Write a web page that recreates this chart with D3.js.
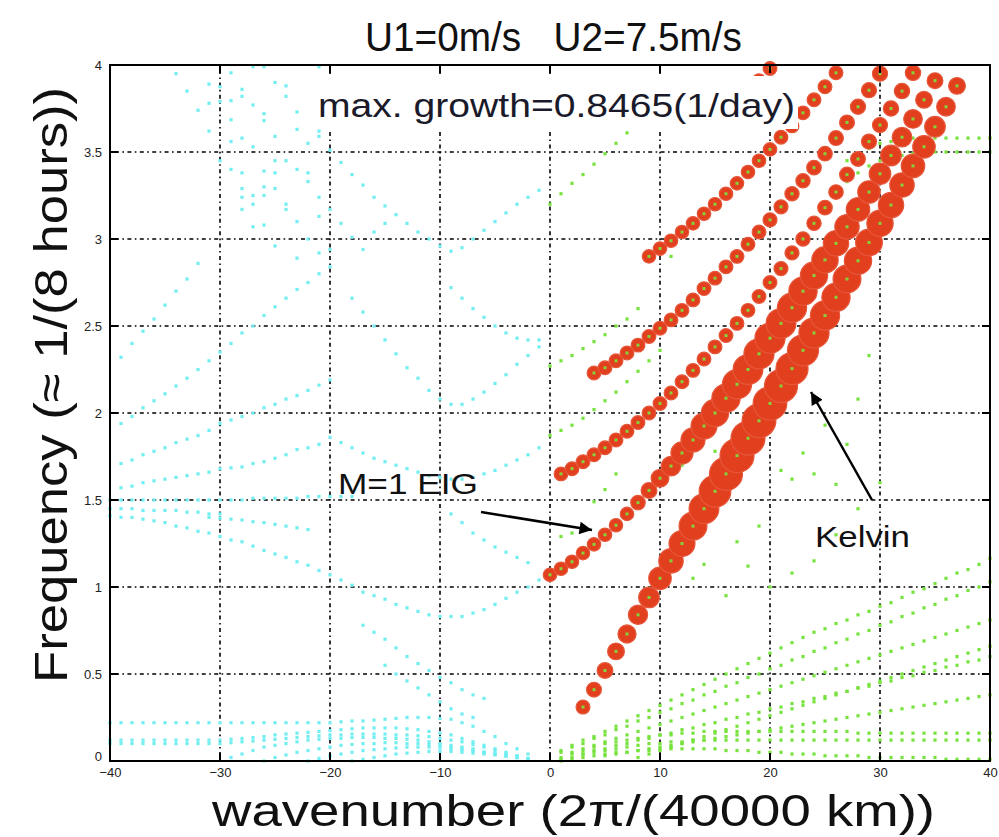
<!DOCTYPE html>
<html><head><meta charset="utf-8">
<script src="https://cdn.jsdelivr.net/npm/d3@7"></script>
<style>body{margin:0;background:#fff}svg{display:block}</style>
</head><body>
<svg id="c" width="999" height="837"></svg>
<script>
// ---------------- DATA ----------------
const xTicks = [-40,-30,-20,-10,0,10,20,30,40];
const yTicks = [0,0.5,1,1.5,2,2.5,3,3.5,4];
const yTickLabels = ["0","0.5","1","1.5","2","2.5","3","3.5","4"];
const maxGrowth = 0.8465;

// unstable (red) branches: first wavenumber, frequencies, growth rates (1/day)
const kelvinK0 = 3;
const kelvinFreq = [0.31,0.41,0.52,0.63,0.73,0.84,0.94,1.05,1.15,1.25,1.35,1.45,1.55,1.65,1.755,1.855,1.955,2.055,2.155,2.255,2.36,2.46,2.56,2.665,2.77,2.875,2.98,3.09,3.195,3.31,3.42,3.53,3.645,3.76,3.88];
const kelvinGrowth = [0.106,0.141,0.176,0.212,0.261,0.303,0.353,0.423,0.494,0.55,0.621,0.691,0.762,0.811,0.8465,0.845,0.84,0.832,0.811,0.776,0.741,0.705,0.67,0.635,0.621,0.6,0.578,0.564,0.529,0.494,0.459,0.423,0.353,0.282,0.212];

const eigK0 = 0;
const eigFreq = [1.07,1.105,1.145,1.195,1.245,1.30,1.355,1.42,1.485,1.555,1.625,1.695,1.77,1.845,1.925,2.0,2.085,2.165,2.25,2.34,2.43,2.515,2.605,2.70,2.79,2.88,2.975,3.07,3.17,3.27,3.375,3.48,3.585,3.69,3.80,3.91];
const eigGrowth = [0.09,0.09,0.09,0.09,0.09,0.09,0.09,0.09,0.127,0.176,0.247,0.317,0.409,0.48,0.55,0.6,0.635,0.67,0.69,0.705,0.705,0.69,0.67,0.635,0.6,0.564,0.529,0.494,0.459,0.423,0.388,0.353,0.317,0.282,0.212,0.176];

const aK0 = 1;
const aFreq = [1.65,1.68,1.72,1.76,1.80,1.845,1.895,1.945,2.0,2.055,2.115,2.18,2.245,2.31,2.38,2.445,2.515,2.59,2.67,2.75,2.83,2.92,3.0,3.09,3.18,3.27,3.37,3.46,3.56,3.655,3.75,3.85,3.955];
const aGrowth = [0.1,0.1,0.1,0.1,0.1,0.1,0.1,0.1,0.1,0.1,0.1,0.1,0.1,0.1,0.1,0.1,0.1,0.1,0.1,0.1,0.11,0.11,0.12,0.12,0.13,0.13,0.14,0.14,0.15,0.15,0.16,0.16,0.16];

const cK0 = 4;
const cFreq = [2.23,2.26,2.30,2.345,2.39,2.44,2.487,2.535,2.59,2.65,2.715,2.775,2.84,2.9,2.97,3.04,3.11,3.185,3.26,3.335,3.41,3.49,3.58,3.67,3.76,3.855,3.95];
const cGrowth = [0.1,0.1,0.1,0.1,0.1,0.1,0.1,0.1,0.1,0.1,0.1,0.1,0.1,0.1,0.1,0.1,0.11,0.11,0.12,0.12,0.13,0.13,0.14,0.14,0.15,0.15,0.15];

const dK0 = 9;
const dFreq = [2.9,2.945,2.99,3.04,3.09,3.145,3.2,3.26,3.32,3.385,3.45,3.515,3.585,3.65,3.725,3.8,3.875,3.955];
const dGrowth = [0.09,0.09,0.09,0.09,0.09,0.09,0.09,0.09,0.09,0.09,0.09,0.09,0.1,0.1,0.1,0.1,0.1,0.1];

const eK0 = 18;
const eFreq = [3.84,3.91,3.98];
const eGrowth = [0.1,0.1,0.1];

// neutral westward modes (cyan): lines of consecutive wavenumbers
const cyanLines = [
  {k0:-40, f:[1.41,1.40,1.40,1.39,1.38,1.37,1.35,1.34,1.32,1.31,1.29,1.27,1.26,1.235,1.21,1.19,1.17,1.145,1.125,1.095,1.07,1.04,1.01,0.97,0.95,0.93,0.90,0.88,0.86,0.84,0.83,0.83,0.83,0.85,0.87,0.90,0.935,0.97,1.0,1.04]},
  {k0:-39, f:[1.94,1.98,2.03,2.07,2.11,2.155,2.2,2.25,2.3,2.35,2.4,2.46,2.5,2.56,2.61,2.66,2.71,2.75,2.80,2.84]},
  {k0:-39, f:[1.71,1.73,1.76,1.78,1.80,1.83,1.85,1.87,1.90,1.94,1.96,1.98,2.0,2.03,2.05,2.08,2.1,2.13,2.16,2.19]},
  {k0:-39, f:[1.57,1.58,1.60,1.61,1.62,1.63,1.64,1.65,1.66,1.68,1.685,1.69,1.71,1.72,1.74,1.76,1.79,1.80,1.82]},
  {k0:-40, f:[1.5,1.5,1.5,1.5,1.5,1.5,1.5,1.5,1.5,1.5,1.5,1.5,1.5,1.51,1.51,1.51,1.51,1.51,1.52,1.52,1.52,1.52,1.52]},
  {k0:-40, f:[1.45,1.45,1.45,1.44,1.44,1.44,1.44,1.43,1.43,1.42,1.42]},
  {k0:-31, f:[1.40,1.395,1.39,1.385,1.375,1.37,1.36,1.35,1.34,1.33]},
  {k0:-39, f:[2.32,2.40,2.47,2.54,2.62,2.70,2.77,2.86]},
  {k0:-40, f:[0.22,0.22,0.22,0.22,0.22,0.22,0.22,0.22,0.22,0.22,0.22,0.22,0.22,0.22,0.22,0.22,0.22,0.22,0.22,0.22,0.22,0.225,0.23,0.23,0.235,0.24,0.245,0.25,0.25,0.25,0.245,0.24,0.22,0.2,0.17,0.14,0.1,0.07,0.04]},
  {k0:-40, f:[0.12,0.12,0.12,0.12,0.12,0.12,0.12,0.12,0.12,0.12,0.12,0.125,0.13,0.135,0.14,0.15,0.155,0.16,0.165,0.17,0.175,0.18,0.185,0.19,0.19,0.19,0.19,0.185,0.18,0.17,0.16,0.15,0.13,0.11,0.09,0.07,0.05,0.03,0.015]},
  {k0:-40, f:[0.10,0.10,0.10,0.10,0.10,0.10,0.10,0.10,0.10,0.10,0.10,0.105,0.11,0.115,0.12,0.125,0.13,0.135,0.14,0.145,0.15,0.15,0.155,0.155,0.155,0.155,0.15,0.15,0.145,0.14,0.13,0.12,0.11,0.095,0.08,0.06,0.045,0.03,0.01]},
  {k0:-29, f:[0.02,0.04,0.06,0.08,0.09,0.1,0.11,0.12,0.125,0.13,0.13,0.135,0.135,0.135,0.13,0.13,0.125,0.12,0.11,0.1,0.09,0.08,0.07,0.05,0.04,0.03,0.02,0.01]},
  {k0:-26, f:[0.0,0.02,0.035,0.05,0.06,0.07,0.08,0.09,0.095,0.1,0.1,0.105,0.105,0.1,0.1,0.095,0.09,0.08,0.07,0.06,0.05,0.04,0.03,0.02,0.01]},
  {k0:-22, f:[0.0,0.015,0.03,0.04,0.05,0.06,0.065,0.07,0.075,0.08,0.08,0.08,0.075,0.07,0.065,0.06,0.05,0.04,0.03,0.02,0.01]},
  {k0:-18, f:[0.0,0.01,0.02,0.03,0.04,0.045,0.05,0.055,0.055,0.055,0.05,0.045,0.04,0.035,0.03,0.02,0.01]}
];
const cyanPoints = [[-34,3.95],[-33,3.85],[-32,3.74],[-31,3.89],[-31,3.78],[-31,3.62],[-30,3.875],[-30,3.79],[-30,3.45],[-29,3.955],[-29,3.795],[-29,3.685],[-29,3.56],[-29,3.4],[-28,3.86],[-28,3.82],[-28,3.58],[-28,3.38],[-28,3.29],[-28,3.24],[-28,3.17],[-27,3.99],[-27,3.77],[-27,3.53],[-27,3.25],[-27,3.2],[-27,3.07],[-26,3.99],[-26,3.72],[-26,3.68],[-26,3.39],[-26,3.3],[-26,3.25],[-26,3.08],[-25,3.9],[-25,3.59],[-25,3.45],[-25,3.38],[-25,3.29],[-25,2.96],[-24,3.88],[-24,3.82],[-24,3.45],[-24,3.2],[-24,3.17],[-23,3.73],[-23,3.63],[-23,3.4],[-23,3.1],[-23,2.89],[-22,3.55],[-22,3.38],[-22,3.33],[-22,3.0],[-21,3.99],[-21,3.62],[-21,3.59],[-21,3.24],[-21,3.13],[-21,2.92],[-20,3.51],[-20,3.17],[-20,2.94],[-19,3.44],[-19,3.09],[-18,3.37],[-18,3.01],[-17,3.31],[-17,2.94],[-16,3.24],[-16,3.04],[-15,3.19],[-15,3.09],[-14,3.14],[-13,3.09],[-12,3.04],[-11,3.0],[-10,2.96],[-9,2.93],[-8,2.95],[-7,3.0],[-6,3.05],[-5,3.1],[-4,3.15],[-3,3.2],[-2,3.24],[-1,3.28],
 [-18,2.66],[-17,2.58],[-16,2.5],[-15,2.42],[-14,2.34],[-13,2.26],[-12,2.2],[-11,2.13],[-10,2.08],[-9,2.05],[-8,2.05],[-7,2.08],[-6,2.12],[-5,2.17],[-4,2.22],[-3,2.28],[-2,2.33],[-1,2.38],
 [-9,2.72],[-8,2.66],[-7,2.6],[-6,2.55],[-5,2.5],[-4,2.46],[-3,2.43],[-2,2.42],[-1,2.42],
 [-20,1.86],[-19,1.83],[-18,1.8],[-17,1.77],[-16,1.74],[-15,1.72],[-14,1.7],[-13,1.68],[-12,1.66],[-11,1.64],[-10,1.63],[-9,1.62],[-8,1.62],[-7,1.63],[-6,1.65],[-5,1.67],[-4,1.7],[-3,1.73],[-2,1.76],[-1,1.8],
 [-9,1.42],[-8,1.37],[-7,1.31],[-6,1.27],[-5,1.23],[-4,1.2],[-3,1.17],[-2,1.14],
 [-15,0.55],[-14,0.5],[-13,0.46],[-12,0.42],[-11,0.38],[-10,0.34],[-9,0.3],[-8,0.27],[-7,0.25],
 [-17,0.78],[-16,0.74],[-15,0.7],[-14,0.65],[-13,0.6],[-12,0.56],[-11,0.52],[-10,0.48],[-9,0.45],[-8,0.41],[-7,0.38],[-6,0.36]
];

// neutral eastward modes (green)
const greenLines = [
  {k0:1, f:[0.06,0.09,0.12,0.14,0.17,0.2,0.23,0.26,0.29,0.32,0.35,0.38,0.41,0.44,0.47,0.5,0.53,0.56,0.59,0.62,0.65,0.68,0.71,0.74,0.76,0.79,0.81,0.84,0.86,0.89,0.91,0.94,0.97,0.99,1.02,1.05,1.08,1.1,1.13,1.165]},
  {k0:1, f:[0.05,0.08,0.1,0.13,0.15,0.18,0.2,0.23,0.25,0.28,0.3,0.33,0.35,0.38,0.4,0.43,0.45,0.48,0.5,0.53,0.55,0.58,0.6,0.63,0.65,0.68,0.7,0.73,0.75,0.78,0.8,0.83,0.85,0.88,0.9,0.93,0.95,0.98,1.0,1.03]},
  {k0:2, f:[0.05,0.07,0.09,0.11,0.13,0.15,0.17,0.19,0.21,0.23,0.25,0.27,0.29,0.31,0.33,0.35,0.37,0.39,0.41,0.43,0.45,0.47,0.49,0.51,0.53,0.55,0.57,0.59,0.61,0.63,0.65,0.67,0.69,0.71,0.73,0.75,0.77,0.79,0.81]},
  {k0:3, f:[0.04,0.06,0.07,0.09,0.1,0.12,0.13,0.15,0.16,0.18,0.19,0.21,0.22,0.24,0.25,0.27,0.28,0.3,0.31,0.33,0.34,0.36,0.37,0.39,0.4,0.42,0.43,0.45,0.46,0.48,0.49,0.51,0.52,0.54,0.55,0.57,0.58,0.6]},
  {k0:5, f:[0.03,0.04,0.05,0.06,0.07,0.08,0.09,0.1,0.11,0.12,0.13,0.14,0.15,0.16,0.17,0.18,0.19,0.2,0.21,0.22,0.23,0.24,0.25,0.26,0.27,0.28,0.29,0.3,0.31,0.32,0.33,0.34,0.35,0.36,0.37,0.38]},
  {k0:1, f:[0.02,0.04,0.06,0.08,0.1,0.11,0.12,0.13,0.14,0.15,0.15,0.16,0.16,0.17,0.17,0.17,0.17,0.17,0.17,0.17,0.17,0.17,0.17,0.17,0.17,0.17,0.17,0.16,0.16,0.16,0.16,0.16,0.16,0.16,0.16,0.16,0.16,0.16,0.16,0.16]},
  {k0:1, f:[0.01,0.02,0.04,0.05,0.06,0.07,0.08,0.09,0.1,0.1,0.11,0.11,0.12,0.12,0.12,0.12,0.12,0.12,0.12,0.12,0.12,0.12,0.12,0.12,0.12,0.12,0.12,0.12,0.12,0.12,0.12,0.12,0.12,0.12,0.12,0.12,0.12,0.12,0.12,0.12]},
  {k0:1, f:[0.0,0.01,0.02,0.03,0.04,0.05,0.05,0.06,0.06,0.07,0.07,0.07,0.07,0.07,0.07,0.06,0.06,0.06,0.05,0.05,0.05,0.04,0.04,0.04,0.03,0.03,0.03,0.03,0.02,0.02,0.02,0.02,0.02,0.02,0.02,0.01,0.01,0.01,0.01,0.01]},
  {k0:8, f:[0.02,0.04,0.06,0.08,0.1,0.12,0.14,0.16,0.18,0.2,0.22,0.24,0.26,0.28,0.3,0.32,0.34,0.36,0.38,0.4,0.42,0.44,0.46,0.48,0.5,0.52,0.54,0.56,0.58,0.6,0.62,0.64,0.66]},
  {k0:0, f:[2.27,2.3,2.33,2.37,2.41,2.45,2.5,2.54,2.6]},
  {k0:0, f:[3.2,3.26,3.32,3.37,3.43,3.49,3.55,3.61]},
  {k0:0, f:[1.87,1.9,1.93,1.97,2.02,2.07,2.12,2.18,2.24,2.3,2.36]},
  {k0:27, f:[3.33,3.38,3.42,3.45,3.47,3.48,3.49,3.5,3.5,3.5,3.5,3.5,3.5,3.5]},
  {k0:27, f:[3.45,3.48,3.52,3.55,3.56,3.57,3.58,3.58,3.58,3.58,3.58,3.58,3.58,3.58]}
];
const greenPoints = [[4,1.49],[5,1.56],[6,1.65],[1,1.29],[2,1.31],[13,1.05],[14,1.13],[16,0.95],[18,1.12],[20,1.0],[22,1.08],[21,1.67],[22,1.62],[23,1.77],[24,1.65],[25,1.93],[26,1.59],[27,1.82],[28,2.08],[29,2.33],[17,1.26],[19,1.35],[15,1.78],[11,2.9],[12,1.7],[24,1.15],[26,1.3],[28,1.45],[30,1.6]];

// ---------------- DRAWING ----------------
const svg = d3.select("#c");
const x = d3.scaleLinear().domain([-40,40]).range([110,990]);
const y = d3.scaleLinear().domain([0,4]).range([761,65]);
const rScale = d3.scaleLinear().domain([0,maxGrowth]).range([5.5,17]);

const font = "'Liberation Sans Narrow','Liberation Sans',Arial,sans-serif";
const sans = "'Liberation Sans',Arial,sans-serif";

// grid
const grid = svg.append("g");
grid.selectAll("line.gx").data(xTicks.slice(1,-1)).join("line")
  .attr("x1",d=>x(d)).attr("x2",d=>x(d)).attr("y1",y(0)).attr("y2",y(4))
  .attr("stroke","#000").attr("stroke-width",1.6).attr("stroke-dasharray","1.6,3.4,4,3.4");
grid.selectAll("line.gy").data(yTicks.slice(1,-1)).join("line")
  .attr("y1",d=>y(d)).attr("y2",d=>y(d)).attr("x1",x(-40)).attr("x2",x(40))
  .attr("stroke","#000").attr("stroke-width",1.6).attr("stroke-dasharray","1.6,3.4,4,3.4");

function expand(lines){ const out=[]; lines.forEach(l=>l.f.forEach((f,i)=>out.push([l.k0+i,f]))); return out; }
const cyanAll = expand(cyanLines).concat(cyanPoints);
const greenAll = expand(greenLines).concat(greenPoints);

const dots = svg.append("g");
dots.selectAll("rect.c").data(cyanAll.filter(d=>d[1]>=0&&d[1]<=4)).join("rect")
  .attr("x",d=>x(d[0])-1.6).attr("y",d=>y(d[1])-1.6).attr("width",3.2).attr("height",3.2)
  .attr("fill","#72eef0");
dots.selectAll("rect.g").data(greenAll.filter(d=>d[1]>=0&&d[1]<=4)).join("rect")
  .attr("x",d=>x(d[0])-1.6).attr("y",d=>y(d[1])-1.6).attr("width",3.2).attr("height",3.2)
  .attr("fill","#78e23e");

// red unstable branches
function branch(k0,freq,growth){ return freq.map((f,i)=>({k:k0+i,f:f,g:growth[i]})); }
const red = [].concat(
  branch(dK0,dFreq,dGrowth), branch(cK0,cFreq,cGrowth), branch(aK0,aFreq,aGrowth),
  branch(eK0,eFreq,eGrowth), branch(eigK0,eigFreq,eigGrowth), branch(kelvinK0,kelvinFreq,kelvinGrowth));
const rg = svg.append("g");
rg.selectAll("circle").data(red).join("circle")
  .attr("cx",d=>x(d.k)).attr("cy",d=>y(d.f)).attr("r",d=>rScale(d.g))
  .attr("fill","#e23f1e").attr("stroke","#e6573a").attr("stroke-width",1.2);
rg.selectAll("rect").data(red).join("rect")
  .attr("x",d=>x(d.k)-1.5).attr("y",d=>y(d.f)-1.5).attr("width",3).attr("height",3)
  .attr("fill","#86d23a");

// axes box and ticks
const ax = svg.append("g");
ax.append("rect").attr("x",x(-40)).attr("y",y(4)).attr("width",x(40)-x(-40)).attr("height",y(0)-y(4))
  .attr("fill","none").attr("stroke","#000").attr("stroke-width",2);
xTicks.forEach(t=>{
  ax.append("line").attr("x1",x(t)).attr("x2",x(t)).attr("y1",y(0)).attr("y2",y(0)-8).attr("stroke","#000").attr("stroke-width",2);
  ax.append("line").attr("x1",x(t)).attr("x2",x(t)).attr("y1",y(4)).attr("y2",y(4)+8).attr("stroke","#000").attr("stroke-width",2);
});
yTicks.forEach(t=>{
  ax.append("line").attr("y1",y(t)).attr("y2",y(t)).attr("x1",x(-40)).attr("x2",x(-40)+8).attr("stroke","#000").attr("stroke-width",2);
  ax.append("line").attr("y1",y(t)).attr("y2",y(t)).attr("x1",x(40)).attr("x2",x(40)-8).attr("stroke","#000").attr("stroke-width",2);
});
const xAxis = d3.axisBottom(x).tickValues(xTicks).tickSize(0).tickPadding(7).tickFormat(d=>d<0?"\u2212"+(-d):d);
svg.append("g").attr("transform",`translate(0,${y(0)})`).call(xAxis)
  .call(g=>g.select(".domain").remove())
  .call(g=>g.selectAll("text").attr("font-family",font).attr("font-size",13).attr("fill","#222"));
const yAxis = d3.axisLeft(y).tickValues(yTicks).tickSize(0).tickPadding(8).tickFormat((d,i)=>yTickLabels[i]);
svg.append("g").attr("transform",`translate(${x(-40)},0)`).call(yAxis)
  .call(g=>g.select(".domain").remove())
  .call(g=>g.selectAll("text").attr("font-family",font).attr("font-size",13).attr("fill","#222"))
  .call(g=>g.selectAll(".tick").filter(d=>d===0).select("text").attr("dy","-0.05em"));

// text box
svg.append("rect").attr("x",312).attr("y",76).attr("width",486).attr("height",53).attr("fill","#fff");
svg.append("text").attr("x",318).attr("y",117).attr("font-family",sans)
  .attr("font-size",33).attr("textLength",477).attr("lengthAdjust","spacingAndGlyphs").attr("fill","#1a1a2a")
  .text("max. growth=0.8465(1/day)");

// titles
svg.append("text").attr("x",365).attr("y",51).attr("font-family",font).attr("font-size",41)
  .attr("textLength",377).attr("lengthAdjust","spacingAndGlyphs").attr("fill","#111")
  .text("U1=0m/s\u00A0\u00A0\u00A0U2=7.5m/s");
svg.append("text").attr("x",212).attr("y",826).attr("font-family",font).attr("font-size",45)
  .attr("textLength",723).attr("lengthAdjust","spacingAndGlyphs").attr("fill","#111")
  .text("wavenumber (2\u03C0/(40000 km))");
svg.append("text").attr("transform","translate(67,683) rotate(-90)").attr("font-family",sans).attr("font-size",47)
  .attr("textLength",596).attr("lengthAdjust","spacingAndGlyphs").attr("fill","#111")
  .text("Frequency (\u2248 1/(8 hours))");

// annotations
const defs = svg.append("defs");
defs.append("marker").attr("id","ah").attr("viewBox","0 0 10 10").attr("refX",10).attr("refY",5)
  .attr("markerWidth",7).attr("markerHeight",5).attr("markerUnits","strokeWidth").attr("orient","auto")
  .append("path").attr("d","M0,0 L10,5 L0,10 z").attr("fill","#000");
svg.append("text").attr("x",338).attr("y",494).attr("font-family",sans).attr("font-size",29)
  .attr("textLength",140).attr("lengthAdjust","spacingAndGlyphs").attr("fill","#111").text("M=1 EIG");
svg.append("line").attr("x1",481).attr("y1",512).attr("x2",592).attr("y2",530).attr("stroke","#000").attr("stroke-width",2.5).attr("marker-end","url(#ah)");
svg.append("text").attr("x",815).attr("y",547).attr("font-family",sans).attr("font-size",29)
  .attr("textLength",95).attr("lengthAdjust","spacingAndGlyphs").attr("fill","#111").text("Kelvin");
svg.append("line").attr("x1",872).attr("y1",500).attr("x2",811).attr("y2",392).attr("stroke","#000").attr("stroke-width",2.5).attr("marker-end","url(#ah)");
</script>
</body></html>
